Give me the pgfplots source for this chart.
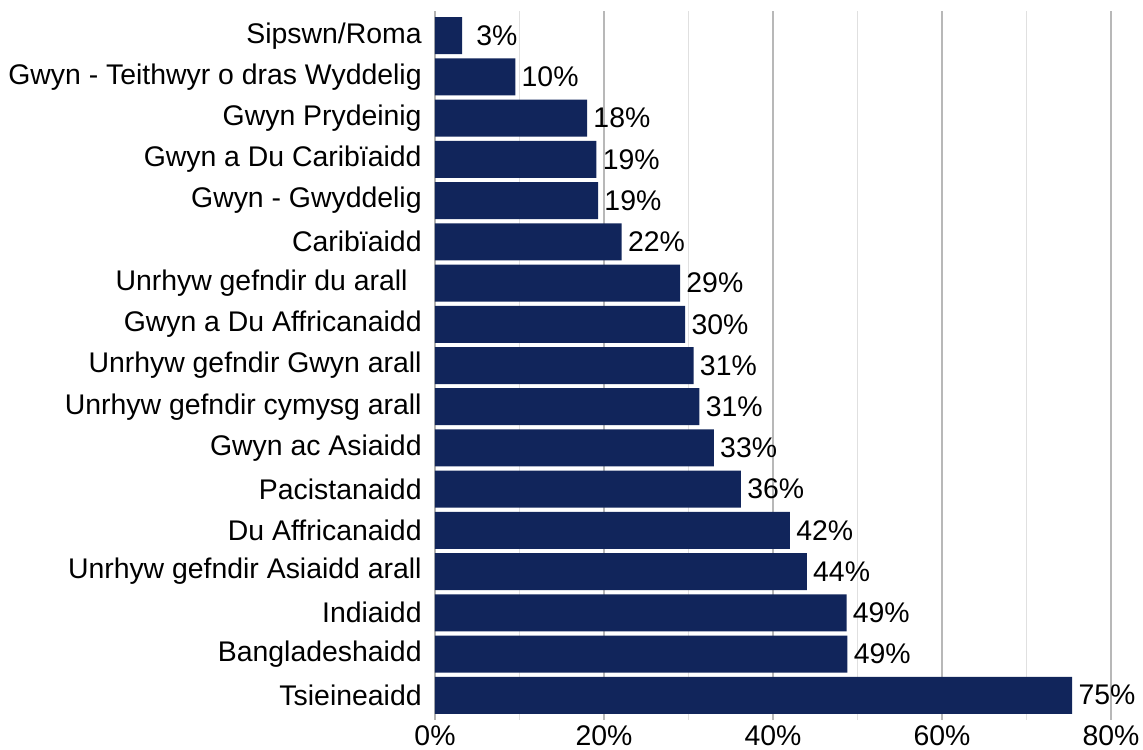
\documentclass[border=0pt]{standalone}
\usepackage{fontspec}
\setmainfont{Liberation Sans}
\usepackage{pgfplots}
\pgfplotsset{compat=1.18}
\usepackage{pgfplotstable}
\definecolor{barblue}{RGB}{17,37,91}

\pgfplotstableread[col sep=comma]{
idx,val,lab
0,3.2,{\kern4pt 3}
1,9.5,10
2,18.0,18
3,19.1,19
4,19.3,19
5,22.1,22
6,29.0,29
7,29.6,30
8,30.6,31
9,31.3,31
10,33.0,33
11,36.2,36
12,42.0,42
13,44.0,44
14,48.7,49
15,48.8,49
16,75.4,75
}\datatable

\begin{document}
\begin{tikzpicture}
\useasboundingbox (-217.5pt,-14.5pt) rectangle (354pt,360pt);
\begin{axis}[
  at={(0,0)}, anchor=south west,
  scale only axis, width=338pt, height=354.5pt,
  xbar, bar width=18.5pt,
  xmin=0, xmax=80, ymin=-0.6, ymax=16.6, y dir=reverse,
  ytick={0,...,16},
  yticklabels={Sipswn/Roma, Gwyn - Teithwyr o dras Wyddelig, Gwyn Prydeinig, Gwyn a Du Caribïaidd, Gwyn - Gwyddelig, Caribïaidd, Unrhyw gefndir du arall\kern7pt\relax, Gwyn a Du Affricanaidd, Unrhyw gefndir Gwyn arall, Unrhyw gefndir cymysg arall, Gwyn ac Asiaidd, Pacistanaidd, Du Affricanaidd, Unrhyw gefndir Asiaidd arall, Indiaidd, Bangladeshaidd, Tsieineaidd},
  xtick={0,20,40,60,80},
  xticklabels={0\%,20\%,40\%,60\%,80\%},
  minor xtick={10,30,50,70},
  xmajorgrids, xminorgrids,
  major grid style={draw=black!28, line width=0.8pt},
  minor grid style={draw=black!12, line width=0.8pt},
  axis lines*=left,
  x axis line style={draw=none},
  y axis line style={draw=black!30, line width=0.8pt},
  tick style={draw=none},
  major tick length=0pt, minor tick length=0pt,
  yticklabel style={font=\fontsize{14.2}{16}\selectfont, inner sep=0pt, xshift=-6.5pt},
  xticklabel style={font=\fontsize{14.2}{16}\selectfont, inner sep=0pt, yshift=-2.5pt},
  nodes near coords={\pgfplotspointmeta\%},
  point meta=explicit symbolic,
  nodes near coords style={anchor=west, font=\fontsize{14.2}{16}\selectfont, inner sep=3pt, text=black},
]
\addplot[fill=barblue, draw=none] table[x=val, y=idx, meta=lab] {\datatable};
\end{axis}
\end{tikzpicture}
\end{document}
